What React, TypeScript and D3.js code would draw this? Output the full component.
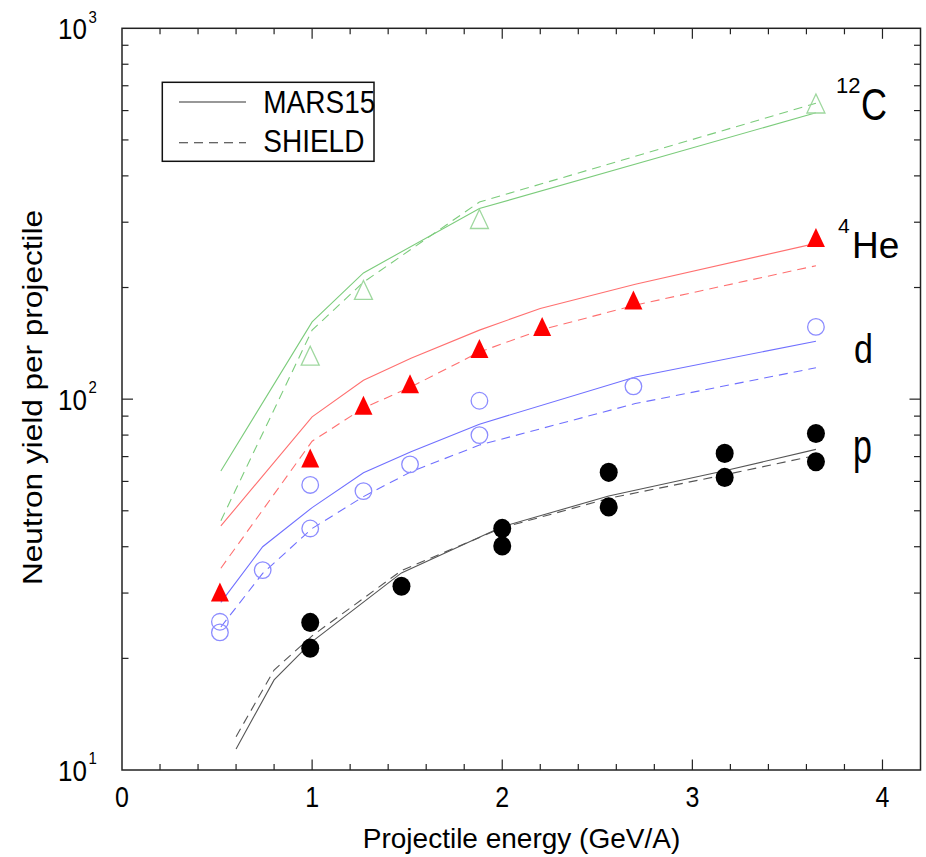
import React from "react";
import * as d3 from "d3";

// ---------- data ----------
const carbonExpE = [0.99, 1.27, 1.88, 3.65];
const carbonExpY = [131, 197, 306, 627];
const heliumExpE = [0.515, 0.99, 1.27, 1.515, 1.88, 2.21, 2.69, 3.65];
const heliumExpY = [30.2, 69.4, 96.3, 110, 137, 157, 185, 273];
const deuteronExpE = [0.515, 0.515, 0.74, 0.99, 0.99, 1.27, 1.515, 1.88, 1.88, 2.69, 3.65];
const deuteronExpY = [25.1, 23.5, 34.6, 58.7, 44.8, 56.5, 66.7, 99, 80, 108.3, 156.6];
const protonExpE = [0.99, 0.99, 1.47, 2.0, 2.0, 2.56, 2.56, 3.17, 3.17, 3.65, 3.65];
const protonExpY = [25.0, 21.3, 31.3, 44.8, 40.2, 63.5, 51.2, 71.4, 61.5, 80.8, 67.8];

const carbonModelE = [0.52, 1.0, 1.27, 1.88, 3.65];
const carbonMars = [64, 161.6, 219, 326.6, 592];
const carbonShield = [47, 153.5, 206.7, 340, 628];
const heliumModelE = [0.52, 1.0, 1.27, 1.52, 1.88, 2.2, 2.7, 3.65];
const heliumMars = [45.5, 89.6, 112.5, 129, 153.5, 175.6, 204, 263];
const heliumShield = [35.0, 77, 94.6, 107.9, 134, 153.5, 179.3, 229];
const deuteronModelE = [0.52, 0.74, 1.0, 1.27, 1.52, 1.88, 2.7, 3.65];
const deuteronMars = [28.3, 40, 51, 63.3, 72.1, 85.6, 114.8, 143.3];
const deuteronShield = [24.3, 33.9, 44.8, 54.6, 63.7, 75.2, 97.3, 121.5];
const protonModelE = [0.6, 0.8, 1.0, 1.47, 2.0, 2.56, 3.17, 3.65];
const protonMars = [11.4, 17.5, 22.2, 34.0, 45.3, 54.8, 64.1, 73.2];
const protonShield = [12.3, 18.6, 23.0, 34.5, 45.0, 54.0, 62.5, 70.5];

const legendLabels = ["MARS15", "SHIELD"];
const xTickLabels = ["0", "1", "2", "3", "4"];
const yDecades = [1, 2, 3];

const FONT = "'Liberation Sans', Arial, Helvetica, sans-serif";
const W = 926;
const H = 857;

const x = d3.scaleLinear().domain([0, 4.2]).range([122, 920.5]);
const y = d3.scaleLog().domain([10, 1000]).range([770, 28.3]);

const line = d3
  .line<[number, number]>()
  .x((d) => x(d[0]))
  .y((d) => y(d[1]));

const zip = (a: number[], b: number[]) => a.map((v, i) => [v, b[i]] as [number, number]);

function T({ x: tx, y: ty, fs, sy = 1, anchor = "start", children, ...rest }: any) {
  return (
    <text
      transform={`translate(${tx},${ty}) scale(1,${sy})`}
      fontSize={fs}
      textAnchor={anchor}
      fontFamily={FONT}
      fill="#000"
      {...rest}
    >
      {children}
    </text>
  );
}

function triPath(cx: number, cy: number, w = 18, h = 19) {
  return `M${cx},${cy - h / 2}L${cx + w / 2},${cy + h / 2}L${cx - w / 2},${cy + h / 2}Z`;
}

const DASH = "9,6";

export default function App() {
  const x0 = 122,
    x1 = 920.5,
    y0 = 28.3,
    y1 = 770;
  const xt = x.ticks(21).filter((v) => v > 0.001 && v < 4.19);
  const yt = y.ticks().filter((v) => v > 10.01 && v < 999);
  const isMajorX = (v: number) => Math.abs(v - Math.round(v)) < 1e-6;
  const isMajorY = (v: number) => Math.abs(Math.log10(v) - Math.round(Math.log10(v))) < 1e-6;

  const series = [
    { e: carbonModelE, m: carbonMars, s: carbonShield, col: "#7ccc7c" },
    { e: heliumModelE, m: heliumMars, s: heliumShield, col: "#ff7070" },
    { e: deuteronModelE, m: deuteronMars, s: deuteronShield, col: "#7070ff" },
    { e: protonModelE, m: protonMars, s: protonShield, col: "#555555" },
  ];

  return (
    <svg
      width={W}
      height={H}
      style={{ position: "absolute", left: 0, top: 0, display: "block", background: "#fff" }}
    >
      <rect x={0} y={0} width={W} height={H} fill="#fff" />

      {/* model lines */}
      {series.map((s, i) => (
        <g key={i} fill="none" stroke={s.col} strokeWidth={1.1}>
          <path d={line(zip(s.e, s.m)) || ""} />
          <path d={line(zip(s.e, s.s)) || ""} strokeDasharray={DASH} />
        </g>
      ))}

      {/* data markers */}
      {carbonExpE.map((e, i) => (
        <path key={"c" + i} d={triPath(x(e), y(carbonExpY[i]))} fill="none" stroke="#9fd89f" strokeWidth={1.3} />
      ))}
      {heliumExpE.map((e, i) => (
        <path key={"h" + i} d={triPath(x(e), y(heliumExpY[i]))} fill="#ff0000" />
      ))}
      {deuteronExpE.map((e, i) => (
        <circle key={"d" + i} cx={x(e)} cy={y(deuteronExpY[i])} r={8.3} fill="none" stroke="#8c8cff" strokeWidth={1.3} />
      ))}
      {protonExpE.map((e, i) => (
        <ellipse key={"p" + i} cx={x(e)} cy={y(protonExpY[i])} rx={9} ry={9.6} fill="#000" />
      ))}

      {/* frame */}
      <rect x={x0} y={y0} width={x1 - x0} height={y1 - y0} fill="none" stroke="#222" strokeWidth={1.5} />

      {/* x ticks */}
      {xt.map((v) => {
        const L = isMajorX(v) ? 10.5 : 6;
        return (
          <g key={"xt" + v} stroke="#222" strokeWidth={1.2}>
            <line x1={x(v)} x2={x(v)} y1={y1} y2={y1 - L} />
            <line x1={x(v)} x2={x(v)} y1={y0} y2={y0 + L} />
          </g>
        );
      })}
      {/* y ticks */}
      {yt.map((v) => {
        const L = isMajorY(v) ? 11 : 6.5;
        return (
          <g key={"yt" + v} stroke="#222" strokeWidth={1.2}>
            <line x1={x0} x2={x0 + L} y1={y(v)} y2={y(v)} />
            <line x1={x1} x2={x1 - L} y1={y(v)} y2={y(v)} />
          </g>
        );
      })}

      {/* x tick labels */}
      {xTickLabels.map((t) => (
        <T key={"xl" + t} x={x(+t)} y={806.7} fs={25} sy={1.15} anchor="middle">
          {t}
        </T>
      ))}
      {/* y tick labels */}
      {yDecades.map((p) => {
        const yy = y(Math.pow(10, p));
        return (
          <g key={"yl" + p}>
            <T x={87} y={yy + 10.7} fs={26} sy={1.15} anchor="end">
              10
            </T>
            <T x={88.5} y={yy - 5.8} fs={15} sy={1.15}>
              {String(p)}
            </T>
          </g>
        );
      })}

      {/* axis titles */}
      <T x={521.5} y={848.3} fs={28} anchor="middle">
        Projectile energy (GeV/A)
      </T>
      <text
        transform="translate(42,397.5) rotate(-90)"
        fontSize={28}
        fontFamily={FONT}
        textAnchor="middle"
        textLength={375}
        lengthAdjust="spacingAndGlyphs"
      >
        Neutron yield per projectile
      </text>

      {/* legend */}
      <rect x={162.3} y={82.3} width={374 - 162.3} height={161.3 - 82.3} fill="#fff" stroke="#111" strokeWidth={1.5} />
      <line x1={179} x2={246} y1={102} y2={102} stroke="#333" strokeWidth={1.1} />
      <line x1={179} x2={246} y1={142.7} y2={142.7} stroke="#333" strokeWidth={1.1} strokeDasharray={DASH} />
      <T x={263.3} y={113} fs={28} sy={1.13}>
        {legendLabels[0]}
      </T>
      <T x={263.3} y={151.7} fs={28} sy={1.13}>
        {legendLabels[1]}
      </T>

      {/* series labels */}
      <T x={836} y={93} fs={22}>
        12
      </T>
      <T x={861} y={120} fs={36} sy={1.25}>
        C
      </T>
      <T x={838} y={233} fs={21}>
        4
      </T>
      <T x={852} y={258} fs={37}>
        He
      </T>
      <T x={854} y={363.3} fs={34} sy={1.21}>
        d
      </T>
      <T x={853} y={462.7} fs={34} sy={1.4}>
        p
      </T>
    </svg>
  );
}
